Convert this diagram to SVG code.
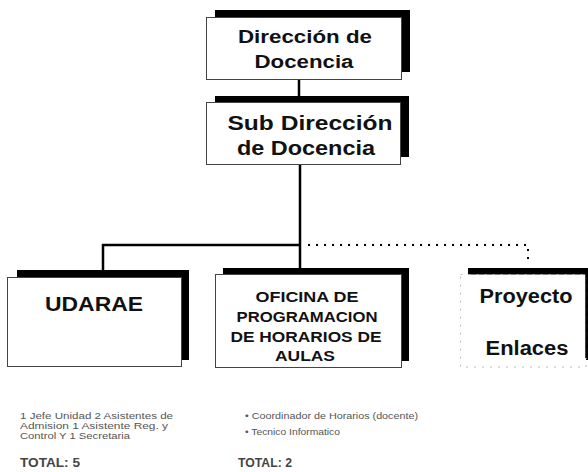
<svg xmlns="http://www.w3.org/2000/svg" width="588" height="472" viewBox="0 0 588 472">
<style>
.box{fill:#fff;stroke:#444;stroke-width:1}
.shadow{fill:#000}
.t{font-family:"Liberation Sans",Arial,sans-serif;font-weight:bold;fill:#111;text-anchor:middle}
.n{font-family:"Liberation Sans",Arial,sans-serif;font-size:9.5px;fill:#555}
.tot{font-family:"Liberation Sans",Arial,sans-serif;font-size:12px;font-weight:bold;fill:#444}
.c{stroke:#000;stroke-width:2.5;fill:none}
.d{stroke:#000;stroke-width:2;fill:none;stroke-dasharray:2 6}
</style>
<rect width="588" height="472" fill="#fff"/>
<g id="connectors">
<line class="c" x1="299" y1="80" x2="299" y2="96"/>
<line class="c" x1="300" y1="165" x2="300" y2="268"/>
<polyline class="c" points="103,271 103,245 300,245"/>
<polyline class="d" points="308,245 528,245 528,265"/>
</g>
<g id="n1">
<rect class="shadow" x="215" y="10" width="195" height="62"/>
<rect class="box" x="206.5" y="17.5" width="195" height="62"/>
<text class="t" x="305" y="43" font-size="18" textLength="134" lengthAdjust="spacingAndGlyphs">Dirección de</text>
<text class="t" x="304" y="68" font-size="18" textLength="99" lengthAdjust="spacingAndGlyphs">Docencia</text>
</g>
<g id="n2">
<rect class="shadow" x="215" y="96" width="194" height="61"/>
<rect class="box" x="206.5" y="102.5" width="194" height="62"/>
<text class="t" x="310" y="130" font-size="20" textLength="165" lengthAdjust="spacingAndGlyphs">Sub Dirección</text>
<text class="t" x="306" y="155" font-size="20" textLength="138" lengthAdjust="spacingAndGlyphs">de Docencia</text>
</g>
<g id="n3">
<rect class="shadow" x="17" y="270" width="172" height="90"/>
<rect class="box" x="7.5" y="277.5" width="174" height="89"/>
<text class="t" x="94" y="311" font-size="21" textLength="98" lengthAdjust="spacingAndGlyphs">UDARAE</text>
</g>
<g id="n4">
<rect class="shadow" x="223" y="268" width="186" height="93"/>
<rect class="box" x="215.5" y="274.5" width="186" height="93"/>
<text class="t" x="307" y="302" font-size="14" textLength="103" lengthAdjust="spacingAndGlyphs">OFICINA DE</text>
<text class="t" x="307" y="322" font-size="14" textLength="141" lengthAdjust="spacingAndGlyphs">PROGRAMACION</text>
<text class="t" x="306" y="342" font-size="14" textLength="151" lengthAdjust="spacingAndGlyphs">DE HORARIOS DE</text>
<text class="t" x="305" y="361" font-size="14" textLength="60" lengthAdjust="spacingAndGlyphs">AULAS</text>
</g>
<g id="n5">
<rect class="shadow" x="468" y="268" width="126" height="92"/>
<rect x="460.5" y="274.5" width="125.5" height="92.5" fill="#fff" stroke="#bbb" stroke-width="1" stroke-dasharray="2 6"/>
<line x1="586" y1="273" x2="586" y2="358" stroke="#000" stroke-width="1.5"/>
<text class="t" x="526" y="303" font-size="20" textLength="93" lengthAdjust="spacingAndGlyphs">Proyecto</text>
<text class="t" x="527" y="355" font-size="20" textLength="83" lengthAdjust="spacingAndGlyphs">Enlaces</text>
</g>
<g id="notes">
<text class="n" x="20" y="419" textLength="153" lengthAdjust="spacingAndGlyphs">1 Jefe Unidad  2 Asistentes de</text>
<text class="n" x="20" y="429" textLength="148" lengthAdjust="spacingAndGlyphs">Admision  1  Asistente Reg. y</text>
<text class="n" x="20" y="439" textLength="110" lengthAdjust="spacingAndGlyphs">Control Y 1 Secretaria</text>
<text class="tot" x="20" y="467" textLength="60" lengthAdjust="spacingAndGlyphs">TOTAL: 5</text>
<text class="n" x="245" y="419" textLength="173" lengthAdjust="spacingAndGlyphs">• Coordinador de Horarios (docente)</text>
<text class="n" x="245" y="435" textLength="95" lengthAdjust="spacingAndGlyphs">• Tecnico Informatico</text>
<text class="tot" x="238" y="467" textLength="54" lengthAdjust="spacingAndGlyphs">TOTAL: 2</text>
</g>
</svg>
